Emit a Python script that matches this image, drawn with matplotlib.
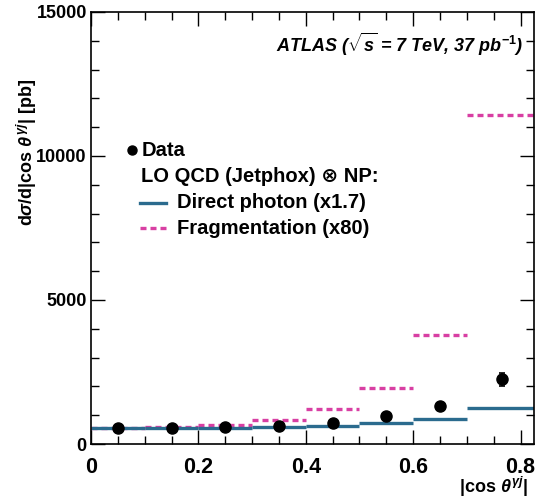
import matplotlib
matplotlib.use("Agg")
import matplotlib.pyplot as plt
import numpy as np
from matplotlib.ticker import MultipleLocator

plt.rcParams['font.family'] = ['Liberation Sans', 'DejaVu Sans']
plt.rcParams['mathtext.fontset'] = 'custom'
plt.rcParams['mathtext.rm'] = 'Liberation Sans:bold'
plt.rcParams['mathtext.it'] = 'Liberation Sans:italic:bold'
plt.rcParams['mathtext.bf'] = 'Liberation Sans:bold'

bin_edges = [0.0, 0.1, 0.2, 0.3, 0.4, 0.5, 0.6, 0.7, 0.83]
data_x = [0.05, 0.15, 0.25, 0.35, 0.45, 0.55, 0.65, 0.765]
data_y = [542, 542, 575, 635, 730, 970, 1320, 2250]
data_err = [30, 30, 30, 35, 40, 55, 90, 230]
direct = [540, 540, 565, 580, 625, 730, 880, 1250]
frag = [540, 600, 670, 845, 1205, 1945, 3785, 11430]

blue = '#2b6b8e'
pink = '#d83fa3'

fig = plt.figure(figsize=(5.35, 4.98), dpi=100)
ax = fig.add_axes([91/535, 1-444/498, (534-91)/535, (444-12)/498])

for i in range(len(direct)):
    ax.plot([bin_edges[i], bin_edges[i+1]], [frag[i], frag[i]], color=pink,
            lw=2.4, ls=(0, (1.8, 1.2)), solid_capstyle='butt')
for i in range(len(direct)):
    ax.plot([bin_edges[i], bin_edges[i+1]], [direct[i], direct[i]], color=blue,
            lw=2.4, solid_capstyle='butt')

ax.errorbar(data_x, data_y, yerr=data_err, fmt='o', color='black', ms=8,
            elinewidth=1.2, capsize=2.5, capthick=1.2, zorder=5)

ax.set_xlim(0, 0.825)
ax.set_ylim(0, 15000)
ax.xaxis.set_major_locator(MultipleLocator(0.2))
ax.xaxis.set_minor_locator(MultipleLocator(0.05))
ax.yaxis.set_major_locator(MultipleLocator(5000))
ax.yaxis.set_minor_locator(MultipleLocator(1000))
ax.tick_params(which='both', direction='in', top=True, right=True)
ax.tick_params(which='major', length=10, width=1)
ax.tick_params(which='minor', length=6, width=1)
ax.set_xticks([0, 0.2, 0.4, 0.6, 0.8])
ax.set_xticklabels(['0', '0.2', '0.4', '0.6', '0.8'], fontweight='bold', fontsize=15.5)
ax.set_yticks([0, 5000, 10000, 15000])
ax.set_yticklabels(['0', '5000', '10000', '15000'], fontweight='bold', fontsize=13)
ax.tick_params(axis='x', pad=9)
ax.tick_params(axis='y', pad=3)
for s in ax.spines.values():
    s.set_linewidth(1.2)

fig.text(27/535, 1-152/498, r'd$\sigma$/d|cos $\theta^{\gamma j}$| [pb]', rotation=90,
         ha='center', va='center', fontsize=13, fontweight='bold')
fig.text(528/535, 1-487/498, r'|cos $\theta^{\gamma j}$|', ha='right', va='center',
         fontsize=13, fontweight='bold')

fig.text(523/535, 1-44/498, r'ATLAS ($\sqrt{s}$ = 7 TeV, 37 pb$^{-1}$)', ha='right', va='center',
         fontsize=13, fontweight='bold', fontstyle='italic')

# legend
fig.lines.append(plt.Line2D([132/535], [1-150/498], marker='o', color='black', ms=6.5,
                            transform=fig.transFigure))
fig.text(142/535, 1-151/498, 'Data', ha='left', va='center', fontsize=14.5, fontweight='bold')
fig.text(141/535, 1-176/498, 'LO QCD (Jetphox) \u2297 NP:', ha='left', va='center',
         fontsize=14.5, fontweight='bold', family=['Liberation Sans', 'DejaVu Sans'])
fig.lines.append(plt.Line2D([140/535, 166/535], [1-203/498]*2, color=blue, lw=2.4,
                            transform=fig.transFigure))
fig.text(177/535, 1-203/498, 'Direct photon (x1.7)', ha='left', va='center', fontsize=14.5, fontweight='bold')
fig.lines.append(plt.Line2D([140/535, 166/535], [1-228/498]*2, color=pink, lw=2.4,
                            ls=(0, (1.8, 1.2)), transform=fig.transFigure))
fig.text(177/535, 1-228/498, 'Fragmentation (x80)', ha='left', va='center', fontsize=14.5, fontweight='bold')

fig.savefig('out.png', dpi=100)
